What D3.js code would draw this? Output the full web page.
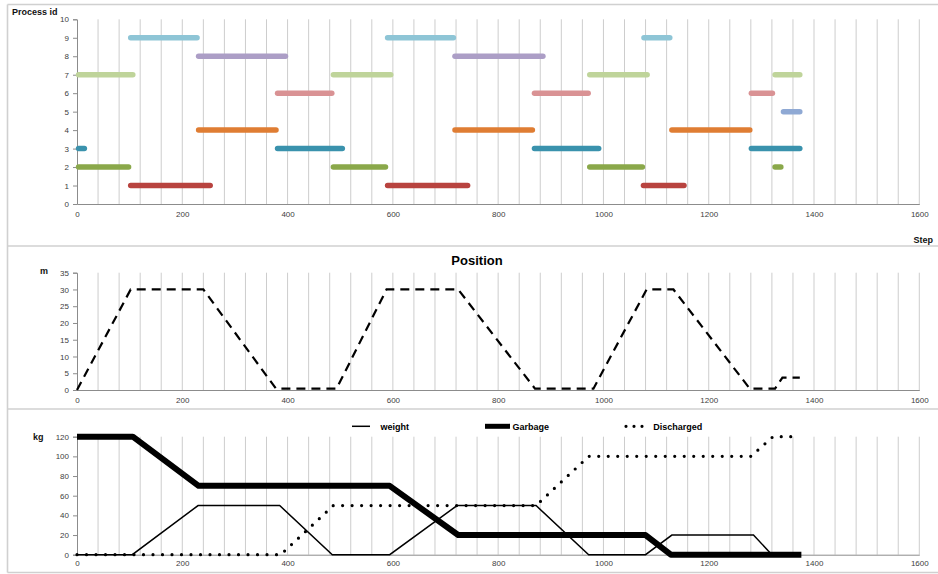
<!DOCTYPE html>
<html>
<head>
<meta charset="utf-8">
<script src="https://cdn.jsdelivr.net/npm/d3@7"></script>
<style>
  html, body { margin: 0; padding: 0; background: #fff; }
  svg { display: block; }
  text { font-family: "Liberation Sans", Arial, sans-serif; }
</style>
</head>
<body>
<svg id="chart" width="938" height="574"></svg>
<script>
// ---- Process schedule: [start step, end step] per process id ----
const processIds = [1, 2, 3, 4, 5, 6, 7, 8, 9];
const spansP1 = [[102, 253], [590, 742], [1076, 1153]];
const spansP2 = [[3, 98], [487, 586], [974, 1074], [1326, 1337]];
const spansP3 = [[3, 14], [381, 504], [869, 991], [1281, 1373]];
const spansP4 = [[231, 378], [718, 865], [1130, 1278]];
const spansP5 = [[1342, 1373]];
const spansP6 = [[381, 484], [869, 971], [1281, 1321]];
const spansP7 = [[3, 106], [487, 596], [974, 1083], [1326, 1373]];
const spansP8 = [[231, 396], [718, 885]];
const spansP9 = [[102, 228], [590, 715], [1077, 1126]];
const processColors = ["#B8433F", "#8AA84A", "#3A92AD", "#DF7D33", "#8FA9D4",
                       "#D99294", "#BFD49A", "#AC9EC6", "#8EC5D6"];

// ---- Position (m) over steps ----
const positionSteps  = [0, 102, 240, 378, 493, 588, 724, 870, 981, 1082, 1133, 1278, 1326, 1340, 1373];
const positionMeters = [0, 30, 30, 0.4, 0.4, 30, 30, 0.4, 0.4, 30, 30, 0.4, 0.4, 3.7, 3.7];

// ---- Loads (kg) over steps ----
const weightSteps = [0, 105, 230, 385, 485, 594, 722, 872, 972, 1080, 1130, 1285, 1320, 1375];
const weightKg    = [0, 0, 50, 50, 0, 0, 50, 50, 0, 0, 20, 20, 0, 0];
const garbageSteps = [0, 106, 231, 594, 724, 1080, 1128, 1376];
const garbageKg    = [120, 120, 70, 70, 20, 20, 0, 0];
const dischargedSteps = [0, 387, 487, 872, 972, 1280, 1322, 1368];
const dischargedKg    = [0, 0, 50, 50, 100, 100, 120, 120];

// ---- Axis ticks ----
const stepTicks = [0, 200, 400, 600, 800, 1000, 1200, 1400, 1600];
const gridSteps = d3.range(40, 1601, 40);
const processTicks = [0, 1, 2, 3, 4, 5, 6, 7, 8, 9, 10];
const meterTicks = [0, 5, 10, 15, 20, 25, 30, 35];
const kgTicks = [0, 20, 40, 60, 80, 100, 120];

const svg = d3.select("#chart");
const W = 938;

const x = d3.scaleLinear().domain([0, 1600]).range([77, 919.3]);
const plain = d3.format("d");

// panel frames
const frame = svg.append("g").attr("fill", "none").attr("stroke", "#d0d0d0").attr("stroke-width", 1.6);
frame.append("line").attr("x1", 7.5).attr("x2", W).attr("y1", 4.5).attr("y2", 4.5);
frame.append("line").attr("x1", 7.5).attr("x2", W).attr("y1", 246).attr("y2", 246);
frame.append("line").attr("x1", 7.5).attr("x2", W).attr("y1", 409).attr("y2", 409);
frame.append("line").attr("x1", 7.5).attr("x2", W).attr("y1", 572.5).attr("y2", 572.5);
frame.append("line").attr("x1", 7.5).attr("x2", 7.5).attr("y1", 4.5).attr("y2", 572.5);

function panel(y, ticks, labelY) {
  const g = svg.append("g");
  const [y0, y1] = y.range();
  // vertical grid lines
  g.append("g").selectAll("line").data(gridSteps).join("line")
    .attr("x1", d => x(d)).attr("x2", d => x(d))
    .attr("y1", y1).attr("y2", y0)
    .attr("stroke", "#cdcdcd").attr("stroke-width", 1);
  // y axis
  const ya = g.append("g").attr("transform", `translate(${x(0)},0)`)
    .call(d3.axisLeft(y).tickValues(ticks).tickFormat(plain).tickSize(4).tickPadding(4));
  // x axis
  const xa = g.append("g").attr("transform", `translate(0,${y0})`)
    .call(d3.axisBottom(x).tickValues(stepTicks).tickFormat(plain).tickSize(0).tickPadding(labelY));
  [ya, xa].forEach(a => {
    a.select(".domain").attr("stroke", "#8c8c8c").attr("stroke-width", 1);
    a.selectAll(".tick line").attr("stroke", "#8c8c8c");
    a.selectAll(".tick text").attr("fill", "#404040")
      .style("font-size", "8px").style("font-family", "'Liberation Sans', Arial, sans-serif");
  });
  return g;
}

// ---------- Top panel: process schedule ----------
const yP = d3.scaleLinear().domain([0, 10]).range([204, 19.3]);
panel(yP, processTicks, 7);

const spans = [spansP1, spansP2, spansP3, spansP4, spansP5, spansP6, spansP7, spansP8, spansP9]
  .flatMap((list, i) => list.map(s => ({ id: processIds[i], start: s[0], end: s[1], color: processColors[i] })));

svg.append("g").selectAll("line").data(spans).join("line")
  .attr("x1", d => x(d.start)).attr("x2", d => x(d.end))
  .attr("y1", d => yP(d.id)).attr("y2", d => yP(d.id))
  .attr("stroke", d => d.color).attr("stroke-width", 5.5)
  .attr("stroke-linecap", "round");

svg.append("text").attr("x", 12).attr("y", 14.5)
  .style("font-size", "9px").style("font-weight", "bold").attr("fill", "#111").text("Process id");
svg.append("text").attr("x", 933).attr("y", 243).attr("text-anchor", "end")
  .style("font-size", "9px").style("font-weight", "bold").attr("fill", "#111").text("Step");

// ---------- Middle panel: position ----------
const yM = d3.scaleLinear().domain([0, 35]).range([390, 272.7]);
panel(yM, meterTicks, 7);

const posData = positionSteps.map((s, i) => [s, positionMeters[i]]);
svg.append("path").datum(posData)
  .attr("d", d3.line().x(d => x(d[0])).y(d => yM(d[1])))
  .attr("fill", "none").attr("stroke", "#000").attr("stroke-width", 2.2)
  .attr("stroke-dasharray", "9,6");

svg.append("text").attr("x", 477).attr("y", 264.5).attr("text-anchor", "middle")
  .style("font-size", "13px").style("font-weight", "bold").attr("fill", "#000").text("Position");
svg.append("text").attr("x", 40).attr("y", 274)
  .style("font-size", "9px").style("font-weight", "bold").attr("fill", "#111").text("m");

// ---------- Bottom panel: loads ----------
const yK = d3.scaleLinear().domain([0, 120]).range([554.7, 436.7]);
panel(yK, kgTicks, 6);

const line = d3.line().x(d => x(d[0])).y(d => yK(d[1]));
const garbageData = garbageSteps.map((s, i) => [s, garbageKg[i]]);
const weightData = weightSteps.map((s, i) => [s, weightKg[i]]);
const dischargedData = dischargedSteps.map((s, i) => [s, dischargedKg[i]]);

svg.append("path").datum(garbageData).attr("d", line)
  .attr("fill", "none").attr("stroke", "#000").attr("stroke-width", 6)
  .attr("stroke-linejoin", "round");
svg.append("path").datum(weightData).attr("d", line)
  .attr("fill", "none").attr("stroke", "#000").attr("stroke-width", 1.5);
svg.append("path").datum(dischargedData).attr("d", line)
  .attr("fill", "none").attr("stroke", "#000").attr("stroke-width", 3.2)
  .attr("stroke-linecap", "round").attr("stroke-dasharray", "0,9.5");

svg.append("text").attr("x", 33).attr("y", 439.5)
  .style("font-size", "9px").style("font-weight", "bold").attr("fill", "#111").text("kg");

// legend
const lg = svg.append("g");
const legendY = 426.3;
lg.append("line").attr("x1", 352).attr("x2", 370).attr("y1", legendY).attr("y2", legendY)
  .attr("stroke", "#000").attr("stroke-width", 1.5);
lg.append("text").attr("x", 380.5).attr("y", legendY + 3.2)
  .style("font-size", "9px").style("font-weight", "bold").text("weight");
lg.append("line").attr("x1", 485).attr("x2", 510).attr("y1", legendY).attr("y2", legendY)
  .attr("stroke", "#000").attr("stroke-width", 5);
lg.append("text").attr("x", 512.5).attr("y", legendY + 3.2)
  .style("font-size", "9px").style("font-weight", "bold").text("Garbage");
lg.append("line").attr("x1", 626).attr("x2", 643).attr("y1", legendY).attr("y2", legendY)
  .attr("stroke", "#000").attr("stroke-width", 3.2)
  .attr("stroke-linecap", "round").attr("stroke-dasharray", "0,8");
lg.append("text").attr("x", 653.3).attr("y", legendY + 3.2)
  .style("font-size", "9px").style("font-weight", "bold").text("Discharged");
</script>
</body>
</html>
